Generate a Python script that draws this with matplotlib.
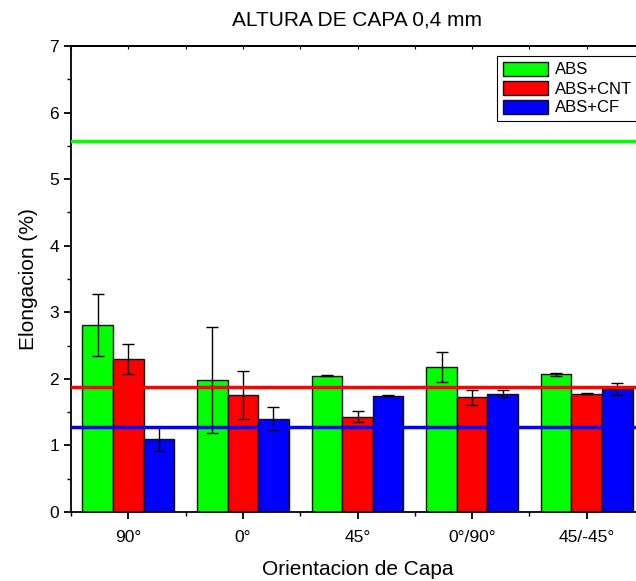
import numpy as np
import matplotlib
matplotlib.use('Agg')
import matplotlib.pyplot as plt
from matplotlib.ticker import MultipleLocator, FixedLocator

plt.rcParams['font.family'] = ['Liberation Sans', 'DejaVu Sans']

orientaciones = ['90°', '0°', '45°', '0°/90°', '45/-45°']
series = ['ABS', 'ABS+CNT', 'ABS+CF']
colores = ['#00ff00', '#ff0000', '#0000ff']

abs_media = [2.81, 1.98, 2.05, 2.18, 2.07]
abs_err = [0.46, 0.80, 0.01, 0.23, 0.02]
cnt_media = [2.30, 1.76, 1.43, 1.72, 1.78]
cnt_err = [0.23, 0.36, 0.08, 0.12, 0.01]
cf_media = [1.10, 1.40, 1.75, 1.78, 1.85]
cf_err = [0.18, 0.17, 0.01, 0.06, 0.09]

# lineas de referencia para cada material
ref_abs = 5.58
ref_cnt = 1.88
ref_cf = 1.28

medias = [abs_media, cnt_media, cf_media]
errores = [abs_err, cnt_err, cf_err]

fig = plt.figure(figsize=(6.36, 5.81), dpi=100)
ax = fig.add_axes([71/636, 69/581, 573/636, 466/581])

x = np.arange(len(orientaciones))
ancho = 0.267
for i in range(3):
    pos = x + (i - 1) * ancho
    ax.bar(pos, medias[i], ancho, color=colores[i], edgecolor='#111111',
           linewidth=1.0, label=series[i], zorder=2)
    ax.errorbar(pos, medias[i], yerr=errores[i], fmt='none', ecolor='black',
                elinewidth=1.0, capsize=4, capthick=1.0, zorder=3)

ax.axhline(ref_abs, color='#00ff00', lw=2.5, zorder=4)
ax.axhline(ref_cnt, color='#ff0000', lw=2.5, zorder=4)
ax.axhline(ref_cf, color='#0000ff', lw=2.5, zorder=4)

ax.set_xlim(-0.5, 4.5)
ax.set_ylim(0, 7)
ax.set_xticks(x)
ax.set_xticklabels(orientaciones)
ax.xaxis.set_minor_locator(FixedLocator(np.arange(-0.5, 5, 1)))
ax.yaxis.set_major_locator(MultipleLocator(1))
ax.yaxis.set_minor_locator(MultipleLocator(0.5))
ax.tick_params(which='major', direction='out', length=5, width=1.3, labelsize=12.5)
ax.tick_params(which='minor', direction='out', length=3, width=1.0)
ax.tick_params(axis='x', which='major', pad=8)
ax.spines['right'].set_visible(False)
for s in ['left', 'bottom', 'top']:
    ax.spines[s].set_linewidth(1.3)

top = ax.secondary_xaxis('top')
top.set_xticks(np.arange(-0.5, 5, 0.5))
top.tick_params(direction='in', length=2, width=0.8, labeltop=False)
top.set_xticklabels([])
top.spines['top'].set_linewidth(1.3)

ax.set_xlabel('Orientacion de Capa', fontsize=15, labelpad=11)
ax.set_ylabel('Elongacion (%)', fontsize=15, labelpad=8)
fig.text(357/636, 1 - 20/581, 'ALTURA DE CAPA 0,4 mm', fontsize=15,
         ha='center', va='center')

leg = ax.legend(loc='upper left', bbox_to_anchor=(497/636, 1 - 56/581),
                bbox_transform=fig.transFigure, fontsize=12, fancybox=False,
                edgecolor='black', framealpha=1, borderpad=0.35,
                handlelength=2.7, handleheight=0.9, handletextpad=0.4,
                labelspacing=0.2, borderaxespad=0)
leg.get_frame().set_linewidth(0.8)

fig.savefig('out.png', dpi=100)
